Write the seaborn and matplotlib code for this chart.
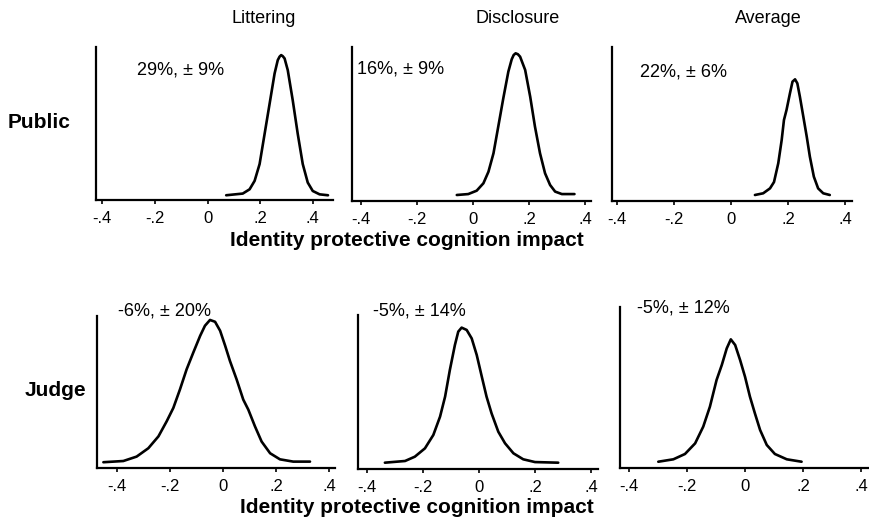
import matplotlib
matplotlib.use("Agg")
import matplotlib.pyplot as plt
import seaborn as sns

# Curves.
# x = identity protective cognition impact, h = curve height
# (0 = bottom axis, 1 = top of the y axis line)
pub_litter_x = [0.071, 0.134, 0.160, 0.179, 0.198, 0.217, 0.236, 0.255, 0.267, 0.274,
                0.280, 0.286, 0.293, 0.305, 0.324, 0.343, 0.362, 0.381, 0.400, 0.426, 0.458]
pub_litter_h = [0.031, 0.042, 0.070, 0.125, 0.235, 0.432, 0.629, 0.827, 0.914, 0.937,
                0.947, 0.940, 0.925, 0.849, 0.651, 0.432, 0.235, 0.114, 0.059, 0.037, 0.031]

pub_disc_x = [-0.058, -0.017, 0.013, 0.037, 0.055, 0.073, 0.090, 0.108, 0.126, 0.138, 0.145,
              0.152, 0.160, 0.168, 0.186, 0.204, 0.221, 0.239, 0.257, 0.275, 0.293, 0.317, 0.362]
pub_disc_h = [0.039, 0.045, 0.067, 0.115, 0.190, 0.310, 0.483, 0.667, 0.840, 0.920, 0.948,
              0.959, 0.953, 0.937, 0.851, 0.677, 0.483, 0.310, 0.180, 0.104, 0.061, 0.045, 0.045]

pub_avg_x = [0.084, 0.113, 0.137, 0.151, 0.166, 0.178, 0.186, 0.195, 0.207, 0.216,
             0.225, 0.233, 0.242, 0.254, 0.266, 0.277, 0.291, 0.306, 0.324, 0.347]
pub_avg_h = [0.039, 0.050, 0.082, 0.123, 0.245, 0.396, 0.526, 0.591, 0.699, 0.775,
             0.790, 0.764, 0.677, 0.548, 0.418, 0.288, 0.158, 0.082, 0.050, 0.039]

judge_litter_x = [-0.450, -0.375, -0.325, -0.281, -0.243, -0.212, -0.187, -0.162, -0.137,
                  -0.112, -0.086, -0.068, -0.049, -0.030, -0.011, 0.008, 0.026, 0.051,
                  0.076, 0.095, 0.120, 0.145, 0.177, 0.214, 0.264, 0.327]
judge_litter_h = [0.038, 0.046, 0.075, 0.130, 0.208, 0.307, 0.395, 0.517, 0.649,
                  0.759, 0.870, 0.936, 0.974, 0.962, 0.903, 0.804, 0.704, 0.583,
                  0.450, 0.384, 0.274, 0.174, 0.097, 0.057, 0.042, 0.042]

judge_disc_x = [-0.336, -0.264, -0.229, -0.193, -0.163, -0.139, -0.121, -0.104, -0.086,
                -0.074, -0.062, -0.044, -0.026, -0.008, 0.010, 0.027, 0.045, 0.069,
                0.093, 0.123, 0.158, 0.200, 0.283]
judge_disc_h = [0.041, 0.052, 0.080, 0.134, 0.221, 0.340, 0.470, 0.643, 0.805,
                0.892, 0.918, 0.903, 0.848, 0.740, 0.600, 0.470, 0.361, 0.242,
                0.167, 0.102, 0.063, 0.045, 0.041]

judge_avg_x = [-0.299, -0.247, -0.207, -0.172, -0.144, -0.121, -0.098, -0.080, -0.063, -0.049,
               -0.034, -0.017, 0.000, 0.017, 0.034, 0.052, 0.075, 0.103, 0.144, 0.195]
judge_avg_h = [0.039, 0.054, 0.087, 0.153, 0.257, 0.381, 0.547, 0.640, 0.743, 0.799,
               0.764, 0.671, 0.567, 0.443, 0.340, 0.236, 0.143, 0.087, 0.054, 0.039]

columns = ["Littering", "Disclosure", "Average"]
rows = ["Public", "Judge"]
notes = ["29%, \u00b1 9%", "16%, \u00b1 9%", "22%, \u00b1 6%",
         "-6%, \u00b1 20%", "-5%, \u00b1 14%", "-5%, \u00b1 12%"]
ticks = [-0.4, -0.2, 0, 0.2, 0.4]
tick_labels = ["-.4", "-.2", "0", ".2", ".4"]
xlabel = "Identity protective cognition impact"

curves = [(pub_litter_x, pub_litter_h), (pub_disc_x, pub_disc_h), (pub_avg_x, pub_avg_h),
          (judge_litter_x, judge_litter_h), (judge_disc_x, judge_disc_h), (judge_avg_x, judge_avg_h)]

sns.set_theme(style="white")
plt.rcParams["font.family"] = ["Liberation Sans", "DejaVu Sans"]
plt.rcParams["text.color"] = "black"

W, H = 870, 519
fig = plt.figure(figsize=(W / 100, H / 100), dpi=100)

# layout in pixels: panel boxes (left, right, top, bottom), x limits, note spots
boxes = [(96.5, 333, 47, 200), (352, 591, 47, 201), (612, 852, 47, 201),
         (97, 335, 316, 468), (358, 598, 315, 469), (620, 868, 307, 468)]
xlims = [(-0.422, 0.477), (-0.432, 0.421), (-0.418, 0.425),
         (-0.474, 0.421), (-0.432, 0.425), (-0.431, 0.424)]
note_pos = [(137, 70), (357, 69), (640, 72), (118, 311), (373, 311), (637, 308)]

for i, (cx, ch) in enumerate(curves):
    l, r, t, b = boxes[i]
    ax = fig.add_axes([l / W, 1 - b / H, (r - l) / W, (b - t) / H])
    sns.lineplot(x=cx, y=ch, ax=ax, color="black", linewidth=1.9)
    ax.set_xlim(*xlims[i])
    ax.set_ylim(0, 1)
    ax.set_xticks(ticks)
    ax.set_xticklabels(tick_labels)
    ax.set_yticks([])
    ax.set_xlabel("")
    ax.set_ylabel("")
    sns.despine(ax=ax)
    for s in ("left", "bottom"):
        ax.spines[s].set_color("black")
        ax.spines[s].set_linewidth(1.6)
    ax.tick_params(axis="x", bottom=True, direction="out", length=3, width=1.2,
                   pad=5, labelsize=12, colors="black")
    fig.text(note_pos[i][0] / W, 1 - note_pos[i][1] / H, notes[i],
             fontsize=13, va="center", ha="left")

# column titles
for name, cx in zip(columns, [264, 518, 768]):
    fig.text(cx / W, 1 - 23 / H, name, fontsize=13, ha="center", va="baseline")

# row labels
for name, (rx, ry) in zip(rows, [(8, 128), (25, 396)]):
    fig.text(rx / W, 1 - ry / H, name, fontsize=15, fontweight="bold",
             ha="left", va="baseline")

# shared x labels under each row
for cx, cy in [(407, 231), (417, 498)]:
    fig.text(cx / W, 1 - cy / H, xlabel, fontsize=15, fontweight="bold",
             ha="center", va="top")

fig.savefig("out.png", dpi=100)
